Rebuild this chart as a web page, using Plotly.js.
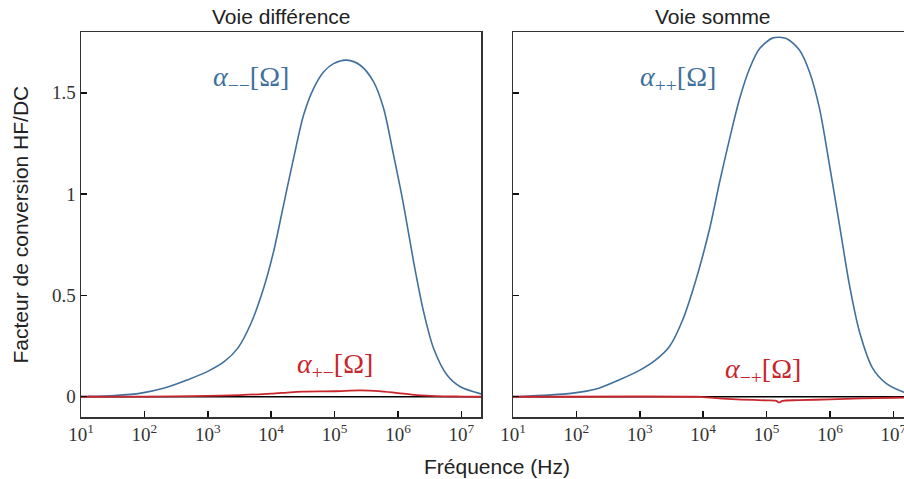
<!DOCTYPE html>
<html>
<head>
<meta charset="utf-8">
<script src="https://cdn.plot.ly/plotly-3.0.1.min.js"></script>
<style>html,body{margin:0;padding:0;background:#fff;}#chart{width:904px;height:479px;}</style>
</head>
<body>
<div id="chart"></div>
<script>
// log10 of frequency (Hz) and values
const logFreqMinusMinus = [1.0, 1.105, 1.53, 1.947, 2.316, 2.684, 3.0, 3.263, 3.474, 3.684, 3.879, 4.037, 4.195, 4.353, 4.511, 4.668, 4.826, 4.984, 5.195, 5.405, 5.616, 5.774, 5.931, 6.089, 6.247, 6.405, 6.563, 6.774, 6.984, 7.31];
const alphaMinusMinus  = [0.001, 0.0015, 0.006, 0.018, 0.043, 0.084, 0.125, 0.174, 0.240, 0.364, 0.534, 0.715, 0.946, 1.176, 1.390, 1.521, 1.603, 1.644, 1.661, 1.636, 1.554, 1.422, 1.192, 0.946, 0.666, 0.419, 0.238, 0.107, 0.049, 0.014];

const logFreqPlusMinus = [1, 2, 3, 3.5, 4, 4.3, 4.5, 5, 5.4, 5.7, 6, 6.3, 6.6, 7, 7.31];
const alphaPlusMinus   = [0, 0.001, 0.004, 0.008, 0.015, 0.022, 0.025, 0.027, 0.031, 0.028, 0.018, 0.008, 0.003, 0.001, 0];

const logFreqPlusPlus = [1.0, 1.105, 1.945, 2.312, 2.68, 2.995, 3.257, 3.468, 3.677, 3.892, 4.102, 4.26, 4.417, 4.575, 4.732, 4.89, 5.10, 5.31, 5.52, 5.677, 5.835, 5.992, 6.15, 6.307, 6.465, 6.674, 6.885, 7.146, 7.31];
const alphaPlusPlus   = [0.001, 0.0015, 0.018, 0.038, 0.084, 0.130, 0.183, 0.248, 0.380, 0.584, 0.830, 1.061, 1.274, 1.472, 1.620, 1.718, 1.771, 1.768, 1.710, 1.603, 1.422, 1.143, 0.847, 0.551, 0.321, 0.140, 0.066, 0.025, 0.012];

const logFreqMinusPlus = [1, 3.9, 4.0, 4.3, 4.6, 5.0, 5.15, 5.2, 5.25, 5.5, 6.0, 6.5, 7.0, 7.31];
const alphaMinusPlus   = [0, 0, -0.002, -0.009, -0.014, -0.018, -0.02, -0.028, -0.02, -0.017, -0.013, -0.008, -0.005, -0.004];

const logFreqZero = [1, 7.31];
const zeroLine = [0, 0];

const tickExponents = [1, 2, 3, 4, 5, 6, 7];
const yTickVals = [0, 0.5, 1, 1.5];
const yTickText = ['0', '0.5', '1', '1.5'];

const toHz = a => a.map(v => Math.pow(10, v));
const xTickVals = toHz(tickExponents);
const xTickText = tickExponents.map(e => '10<sup>' + e + '</sup>');

const BLUE = '#41709c';
const RED = '#c9252c';

function tr(lx, y, color, width, xa, ya) {
  return {x: toHz(lx), y: y, type: 'scatter', mode: 'lines', xaxis: xa, yaxis: ya,
          line: {color: color, width: width, shape: 'spline', smoothing: 0.8}, hoverinfo: 'skip'};
}

const data = [
  tr(logFreqZero, zeroLine, '#000', 1.5, 'x', 'y'),
  tr(logFreqMinusMinus, alphaMinusMinus, BLUE, 1.6, 'x', 'y'),
  tr(logFreqPlusMinus, alphaPlusMinus, RED, 1.8, 'x', 'y'),
  tr(logFreqZero, zeroLine, '#000', 1.5, 'x2', 'y2'),
  tr(logFreqPlusPlus, alphaPlusPlus, BLUE, 1.6, 'x2', 'y2'),
  tr(logFreqMinusPlus, alphaMinusPlus, RED, 1.8, 'x2', 'y2')
];

const tickFont = {family: 'Liberation Serif, serif', size: 19, color: '#333'};
const axCommon = {
  type: 'log', tickmode: 'array', tickvals: xTickVals, ticktext: xTickText,
  ticks: 'inside', ticklen: 6, tickwidth: 1.5, tickcolor: '#111',
  showline: true, linecolor: '#333', linewidth: 1.5, mirror: true,
  showgrid: false, zeroline: false, tickfont: tickFont, fixedrange: true,
  ticklabeloverflow: 'allow'
};
const yCommon = {
  range: [-0.1, 1.8], tickmode: 'array', tickvals: yTickVals, ticktext: yTickText,
  ticks: 'inside', ticklen: 6, tickwidth: 1.5, tickcolor: '#111',
  showline: true, linecolor: '#333', linewidth: 1.5,
  showgrid: false, zeroline: false, tickfont: tickFont, fixedrange: true
};

const W = 823;
const labFont = (c) => ({family: 'Liberation Serif, serif', size: 28, color: c});
const sansFont = {family: 'Liberation Sans, Arial, sans-serif', size: 21, color: '#222'};

const layout = {
  width: 904, height: 479,
  margin: {l: 81, r: 0, t: 32, b: 62},
  paper_bgcolor: '#fff', plot_bgcolor: '#fff',
  showlegend: false,
  xaxis: Object.assign({}, axCommon, {domain: [0, 400 / W], range: [1, 7.31], anchor: 'y'}),
  xaxis2: Object.assign({}, axCommon, {domain: [432 / W, 1], range: [1, 1 + 391 / 63.4], anchor: 'y2'}),
  yaxis: Object.assign({}, yCommon, {anchor: 'x', mirror: true}),
  yaxis2: Object.assign({}, yCommon, {anchor: 'x2', mirror: false, showticklabels: false}),
  annotations: [
    {text: 'Voie différence', xref: 'paper', yref: 'paper', x: (281 - 81) / W, xanchor: 'center', y: 1, yanchor: 'bottom', yshift: 2, showarrow: false, font: sansFont},
    {text: 'Voie somme', xref: 'paper', yref: 'paper', x: (713 - 81) / W, xanchor: 'center', y: 1, yanchor: 'bottom', yshift: 2, showarrow: false, font: sansFont},
    {text: 'Fréquence (Hz)', xref: 'paper', yref: 'paper', x: (497 - 81) / W, xanchor: 'center', y: 0, yanchor: 'middle', yshift: -49, showarrow: false, font: sansFont},
    {text: 'Facteur de conversion HF/DC', xref: 'paper', yref: 'paper', x: 0, xanchor: 'center', xshift: -61, y: 0.5, yanchor: 'middle', textangle: -90, showarrow: false, font: sansFont},
    {text: '<i>α</i><sub>−−</sub>[Ω]', xref: 'paper', yref: 'paper', x: (251 - 81) / W, xanchor: 'center', y: (417 - 78) / 385, yanchor: 'middle', showarrow: false, font: labFont(BLUE)},
    {text: '<i>α</i><sub>+−</sub>[Ω]', xref: 'paper', yref: 'paper', x: (335 - 81) / W, xanchor: 'center', y: (417 - 365) / 385, yanchor: 'middle', showarrow: false, font: labFont(RED)},
    {text: '<i>α</i><sub>++</sub>[Ω]', xref: 'paper', yref: 'paper', x: (678 - 81) / W, xanchor: 'center', y: (417 - 78) / 385, yanchor: 'middle', showarrow: false, font: labFont(BLUE)},
    {text: '<i>α</i><sub>−+</sub>[Ω]', xref: 'paper', yref: 'paper', x: (763 - 81) / W, xanchor: 'center', y: (417 - 370) / 385, yanchor: 'middle', showarrow: false, font: labFont(RED)}
  ]
};

Plotly.newPlot('chart', data, layout, {displayModeBar: false, staticPlot: true});
</script>
</body>
</html>
